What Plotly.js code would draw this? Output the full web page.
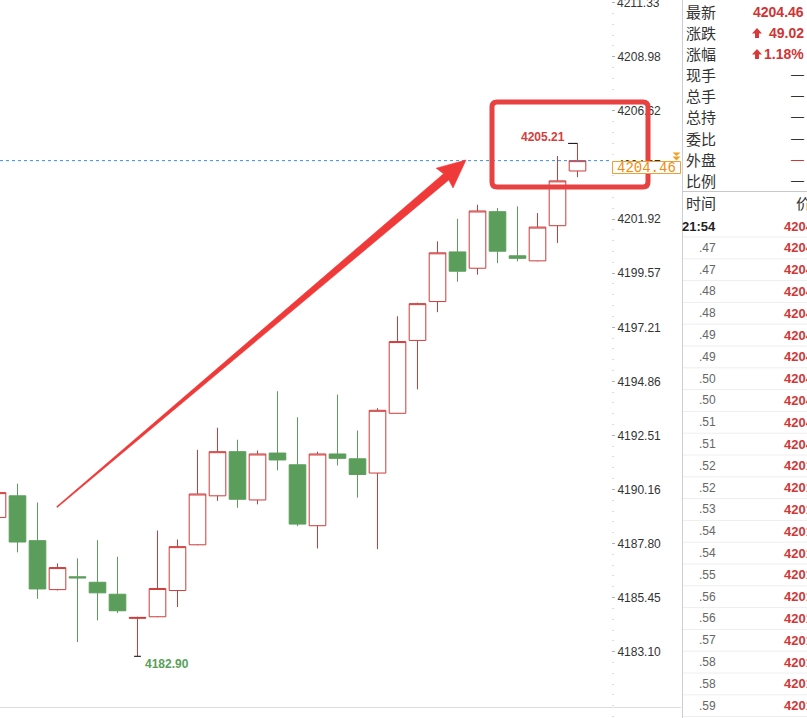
<!DOCTYPE html>
<html>
<head>
<meta charset="utf-8">
<script src="https://cdn.plot.ly/plotly-3.0.1.min.js"></script>
<style>html,body{margin:0;padding:0;background:#fff;}#chart{width:807px;height:718px;}</style>
</head>
<body>
<div id="chart"></div>
<script>
// ---- data ----
const candleIndex = [0,1,2,3,4,5,6,7,8,9,10,11,12,13,14,15,16,17,18,19,20,21,22,23,24,25,26,27,28,29];
const openVals  = [4188.94,4189.88,4187.93,4185.80,4186.36,4186.12,4185.60,4184.55,4184.62,4185.76,4187.75,4189.88,4191.80,4189.70,4191.74,4191.23,4188.58,4191.70,4191.49,4190.87,4193.47,4196.64,4198.33,4200.49,4199.78,4202.24,4200.32,4200.10,4201.63,4204.01];
const highVals  = [4190.10,4190.41,4189.59,4186.94,4187.16,4187.95,4187.23,4184.62,4188.37,4187.98,4191.88,4192.84,4192.32,4191.85,4194.43,4193.30,4191.80,4194.28,4192.72,4193.69,4197.69,4198.28,4200.95,4201.93,4202.54,4202.40,4202.47,4202.18,4204.66,4205.21];
const lowVals   = [4188.90,4187.42,4185.40,4185.76,4183.52,4184.46,4184.78,4182.90,4184.60,4185.04,4187.73,4189.66,4189.36,4189.51,4190.99,4188.56,4187.59,4191.20,4189.80,4187.56,4193.45,4194.51,4197.87,4199.19,4199.50,4200.00,4200.08,4200.08,4200.88,4203.74];
const closeVals = [4190.02,4187.87,4185.83,4186.76,4186.31,4185.66,4184.88,4184.59,4185.85,4187.67,4189.96,4191.80,4189.73,4191.70,4191.44,4188.65,4191.70,4191.51,4190.81,4193.60,4196.59,4198.24,4200.45,4199.65,4202.27,4200.52,4200.21,4201.57,4203.58,4204.46];
const tickVals = [4183.10,4185.45,4187.80,4190.16,4192.51,4194.86,4197.21,4199.57,4201.92,4204.27,4206.62,4208.98,4211.33];
const tickText = ['4183.10','4185.45','4187.80','4190.16','4192.51','4194.86','4197.21','4199.57','4201.92','4204.27','4206.62','4208.98','4211.33'];
const lastPrice = 4204.46;
const highIdx = 29, lowIdx = 7;

const panelLabels = ['最新','涨跌','涨幅','现手','总手','总持','委比','外盘','比例'];
const panelValues = ['4204.46','49.02','1.18%','—','—','—','—','—','—'];
const listHeader = ['时间','价'];
const listTimes = ['21:54','.47','.47','.48','.48','.49','.49','.50','.50','.51','.51','.52','.52','.53','.54','.54','.55','.56','.56','.57','.58','.58','.59'];
const listPrices = ['4204.46','4204.46','4204.46','4204.46','4204.46','4204.46','4204.46','4204.46','4204.46','4204.46','4204.46','4201.46','4201.46','4201.46','4201.46','4201.46','4201.46','4201.46','4201.46','4201.46','4201.46','4201.46','4201.46'];

// ---- helpers ----
const W = 807, H = 718;
const px = x => x / W;
const py = y => 1 - y / H;
const pt = (x, y) => px(x).toFixed(5) + ',' + py(y).toFixed(5);

const RED = '#cf3b3b', GREEN = '#5b9e5b';

const trace = {
  type: 'candlestick',
  x: candleIndex, open: openVals, high: highVals, low: lowVals, close: closeVals,
  increasing: {line: {color: RED, width: 1}, fillcolor: '#ffffff'},
  decreasing: {line: {color: GREEN, width: 1}, fillcolor: GREEN},
  whiskerwidth: 0,
  hoverinfo: 'skip'
};

const shapes = [];
const annotations = [];

// top tick label that the axis drops at the figure edge
annotations.push({xref:'paper', yref:'y', x:px(615), y:tickVals[12], xanchor:'left', yanchor:'middle', showarrow:false,
  text: tickText[12], font:{family:'Liberation Sans, Arial', size:12, color:'#333333'}});

// last price dashed line
shapes.push({type:'line', xref:'paper', yref:'y', x0:0, x1:611/W, y0:lastPrice, y1:lastPrice,
  line:{color:'#3a8ed6', width:1, dash:'3px,3px'}});

// high / low markers
shapes.push({type:'line', xref:'x', yref:'y', x0:highIdx-0.47, x1:highIdx, y0:highVals[highIdx], y1:highVals[highIdx], line:{color:'#000', width:1}});
shapes.push({type:'line', xref:'x', yref:'y', x0:lowIdx-0.17, x1:lowIdx+0.17, y0:lowVals[lowIdx], y1:lowVals[lowIdx], line:{color:'#000', width:1}});
annotations.push({xref:'x', yref:'y', x:highIdx, y:highVals[highIdx], text:highVals[highIdx].toFixed(2), showarrow:false,
  xanchor:'right', yanchor:'middle', xshift:-11, yshift:6, font:{family:'Liberation Sans, Arial', size:12, color:'#d2403d', weight:'bold'}});
annotations.push({xref:'x', yref:'y', x:lowIdx, y:lowVals[lowIdx], text:lowVals[lowIdx].toFixed(2), showarrow:false,
  xanchor:'left', yanchor:'middle', xshift:5, yshift:-8, font:{family:'Liberation Sans, Arial', size:12, color:'#5aa05a', weight:'bold'}});

// red highlight rectangle (rounded corners)
(function(){
  const x0=492, x1=648, y0=102, y1=187, r=5;
  const d = 'M '+pt(x0+r,y0)+' L '+pt(x1-r,y0)+' Q '+pt(x1,y0)+' '+pt(x1,y0+r)+' L '+pt(x1,y1-r)+' Q '+pt(x1,y1)+' '+pt(x1-r,y1)+
            ' L '+pt(x0+r,y1)+' Q '+pt(x0,y1)+' '+pt(x0,y1-r)+' L '+pt(x0,y0+r)+' Q '+pt(x0,y0)+' '+pt(x0+r,y0)+' Z';
  shapes.push({type:'path', xref:'paper', yref:'paper', path:d, line:{color:'#e84141', width:5}, layer:'above'});
})();

// red tapered arrow
const arrowPts = [[56.7,506.6],[443.6,173.7],[436.2,168.2],[466,160],[453.0,188.0],[448.8,179.9],[57.3,507.4]];
shapes.push({type:'path', xref:'paper', yref:'paper', layer:'above',
  path: 'M ' + arrowPts.map(p => pt(p[0], p[1])).join(' L ') + ' Z',
  fillcolor:'#f03a3a', line:{color:'#f03a3a', width:0.6}});

// bottom rule
shapes.push({type:'line', xref:'paper', yref:'paper', x0:0, x1:px(681), y0:py(707.5), y1:py(707.5), line:{color:'#dddddd', width:1}});

// last price tag: box + text
shapes.push({type:'rect', xref:'paper', yref:'paper', layer:'above', x0:px(612.5), x1:px(680.5), y0:py(173.5), y1:py(161.5),
  fillcolor:'#ffffff', line:{color:'#f0a030', width:1}});
annotations.push({xref:'paper', yref:'paper', x:px(646.5), y:py(168), xanchor:'center', yanchor:'middle', showarrow:false,
  text: lastPrice.toFixed(2), font:{family:'Liberation Mono, Courier New, monospace', size:14, color:'#ee8c10'}});
// double down marker
shapes.push({type:'path', xref:'paper', yref:'paper', layer:'above',
  path:'M '+pt(672.5,152.5)+' L '+pt(680.5,152.5)+' L '+pt(676.5,156)+' Z', fillcolor:'#f0a020', line:{width:0}});
shapes.push({type:'path', xref:'paper', yref:'paper', layer:'above',
  path:'M '+pt(672.5,156.5)+' L '+pt(680.5,156.5)+' L '+pt(676.5,160.5)+' Z', fillcolor:'#f0a020', line:{width:0}});

// ---- right panel ----
shapes.push({type:'line', xref:'paper', yref:'paper', x0:px(682.5), x1:px(682.5), y0:0, y1:1, line:{color:'#c9ced8', width:1}});
shapes.push({type:'line', xref:'paper', yref:'paper', x0:px(682.5), x1:1, y0:py(191.5), y1:py(191.5), line:{color:'#c8c8c8', width:1}});

const cjk = 'Noto Sans CJK SC, sans-serif';
panelLabels.forEach((lab, i) => {
  const y = 12 + 21 * i;
  annotations.push({xref:'paper', yref:'paper', x:px(684), y:py(y), xanchor:'left', yanchor:'middle', showarrow:false,
    text: lab, font:{family:cjk, size:15, color:'#333333'}});
  const val = panelValues[i];
  const isNum = i < 3;
  annotations.push({xref:'paper', yref:'paper', x:px(806), y:py(y), xanchor:'right', yanchor:'middle', showarrow:false,
    text: val, font:{family:'Liberation Sans, Arial', size: isNum ? 14 : 13, color: (isNum || lab === '外盘') ? '#cf3535' : '#333333', weight: isNum ? 'bold' : 'normal'}});
  if (i === 1 || i === 2) {
    const ax = 757;
    shapes.push({type:'path', xref:'paper', yref:'paper', layer:'above',
      path:'M '+pt(ax-5,y+0.5)+' L '+pt(ax,y-5)+' L '+pt(ax+5,y+0.5)+' L '+pt(ax+2,y+0.5)+' L '+pt(ax+2,y+5)+' L '+pt(ax-2,y+5)+' L '+pt(ax-2,y+0.5)+' Z',
      fillcolor:'#d63a3a', line:{width:0}});
  }
});

annotations.push({xref:'paper', yref:'paper', x:px(684), y:py(203), xanchor:'left', yanchor:'middle', showarrow:false,
  text: listHeader[0], font:{family:cjk, size:15, color:'#333333'}});
annotations.push({xref:'paper', yref:'paper', x:px(794), y:py(203), xanchor:'left', yanchor:'middle', showarrow:false,
  text: listHeader[1], font:{family:cjk, size:15, color:'#333333'}});

listTimes.forEach((t, k) => {
  const y = 226 + 21.8 * k;
  annotations.push({xref:'paper', yref:'paper', x:px(718), y:py(y), xanchor:'right', yanchor:'middle', showarrow:false,
    text: t, font: k === 0 ? {family:'Liberation Sans, Arial', size:13, color:'#222', weight:'bold'} : {family:'Liberation Sans, Arial', size:12, color:'#666'}});
  annotations.push({xref:'paper', yref:'paper', x:px(781.5), y:py(y), xanchor:'left', yanchor:'middle', showarrow:false,
    text: listPrices[k], font:{family:'Liberation Sans, Arial', size:13, color:'#d03838', weight:'bold'}});
  shapes.push({type:'line', xref:'paper', yref:'paper', x0:px(683), x1:1, y0:py(y+11), y1:py(y+11), line:{color:'#eeeeee', width:1}});
});

const layout = {
  width: W, height: H,
  margin: {l:0, r:0, t:0, b:0, pad:0},
  paper_bgcolor: '#ffffff', plot_bgcolor: '#ffffff',
  showlegend: false,
  boxgap: 0.17, boxgroupgap: 0,
  xaxis: {domain:[0, 611/W], range:[0.125, 30.675], visible:false, rangeslider:{visible:false}, fixedrange:true},
  yaxis: {side:'right', anchor:'x', range:[4180.216, 4211.447], tickmode:'array', tickvals: tickVals, ticktext: tickText,
    showgrid:false, zeroline:false, showline:false, ticks:'outside', ticklen:3, tickcolor:'#b0b0b0',
    tickfont:{family:'Liberation Sans, Arial', size:12, color:'#333333'}, fixedrange:true,
    minor:{ticks:'outside', ticklen:2, tickcolor:'#dddddd', tick0:4183.10, dtick:0.4705, showgrid:false}},
  shapes: shapes,
  annotations: annotations
};

Plotly.newPlot('chart', [trace], layout, {displayModeBar:false, staticPlot:true});
</script>
</body>
</html>
